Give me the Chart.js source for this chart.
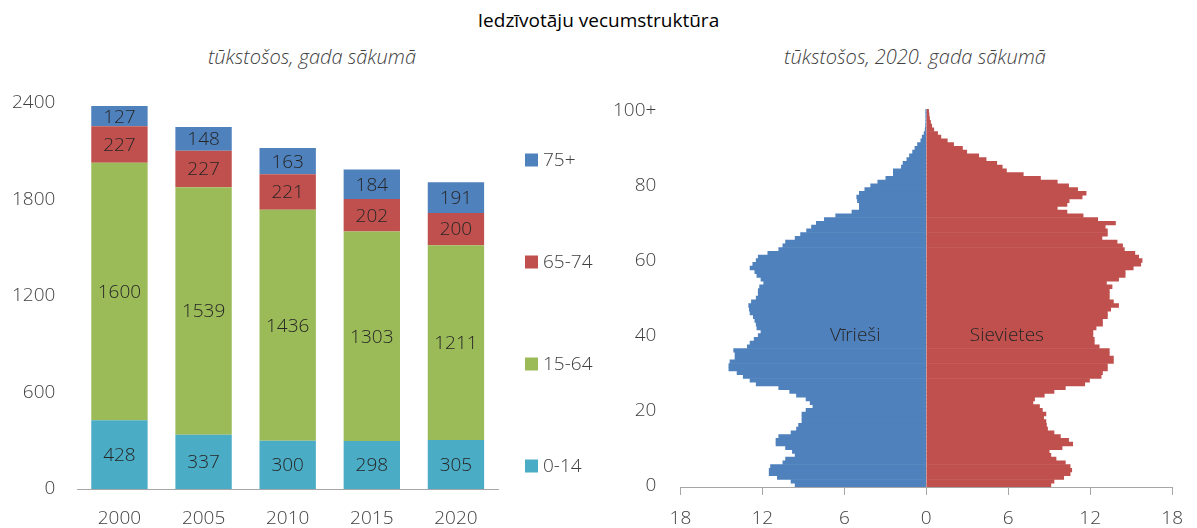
<!DOCTYPE html>
<html>
<head>
<meta charset="utf-8">
<script src="https://cdn.jsdelivr.net/npm/chart.js@4.4.0/dist/chart.umd.min.js"></script>
<style>
body { margin: 0; background: #fff; width: 1197px; height: 528px; position: relative; overflow: hidden; font-family: 'Open Sans', sans-serif; }
.virsraksts { position: absolute; top: 7px; left: 0; width: 1197px; text-align: center; font-size: 19px; color: #000; }
.apaksv { position: absolute; top: 43px; width: 400px; text-align: center; font-size: 20px; font-style: italic; font-weight: 300; color: #404040; }
#kaste-kreisa { position: absolute; left: 0; top: 0; width: 610px; height: 528px; }
#kaste-laba { position: absolute; left: 585px; top: 0; width: 612px; height: 528px; }
</style>
</head>
<body>
<div class="virsraksts">Iedzīvotāju vecumstruktūra</div>
<div class="apaksv" style="left:112px">tūkstošos, gada sākumā</div>
<div class="apaksv" style="left:715px">tūkstošos, 2020. gada sākumā</div>
<div id="kaste-kreisa"><canvas id="g-struktura"></canvas></div>
<div id="kaste-laba"><canvas id="g-piramida"></canvas></div>

<script>
// kreisais grafiks, tūkst.
var gadi = ['2000', '2005', '2010', '2015', '2020'];
var berni = [428, 337, 300, 298, 305];          // 0-14
var darbaVecums = [1600, 1539, 1436, 1303, 1211]; // 15-64
var vecaki = [227, 227, 221, 202, 200];         // 65-74
var vecie = [127, 148, 163, 184, 191];          // 75+
var grupas = ['0-14', '15-64', '65-74', '75+'];

// piramīda, 2020. gads, tūkst. pēc vecuma 0..100+
var vecumi = [];
for (var v = 0; v <= 100; v++) vecumi.push(v === 100 ? '100+' : String(v));

var virieti = [
    9.6, 9.9, 10.9, 11.5, 11.5, 11.4, 10.5, 10.3, 9.6, 9.8,
    10.3, 11.0, 11.0, 10.8, 9.9, 9.5, 9.35, 9.1, 9.1, 9.1,
    8.8, 8.3, 8.5, 8.8, 9.5, 10.0, 10.8, 12.45, 12.9, 13.4,
    13.85, 14.45, 14.45, 14.37, 14.0, 14.0, 14.1, 13.1, 12.9, 12.6,
    12.3, 12.1, 12.4, 12.45, 12.55, 12.66, 12.9, 12.95, 13.0, 12.8,
    12.45, 12.3, 12.3, 12.2, 11.9, 12.1, 12.4, 12.55, 12.9, 12.7,
    12.45, 12.3, 11.6, 10.8, 10.5, 10.3, 9.6, 9.2, 8.76, 8.4,
    8.05, 7.46, 6.63, 5.44, 4.9, 4.9, 5.04, 5.09, 4.9, 4.5,
    4.07, 3.55, 2.96, 2.41, 2.41, 1.82, 1.7, 1.42, 1.23, 1.0,
    0.83, 0.64, 0.4, 0.3, 0.16, 0.08, 0.05, 0.03, 0.02, 0.01,
    0.01
];
var sievietes = [
    9.12, 9.35, 10.06, 10.53, 10.65, 10.53, 10.18, 9.5, 9.12, 9.0,
    9.94, 10.72, 10.42, 9.82, 9.35, 8.88, 8.8, 8.76, 8.59, 8.76,
    8.5, 8.29, 7.81, 7.93, 8.64, 9.35, 10.18, 11.6, 11.95, 12.8,
    12.9, 13.26, 13.26, 13.7, 13.7, 13.4, 13.4, 12.66, 12.3, 12.3,
    12.2, 12.2, 12.43, 12.9, 12.9, 13.26, 13.26, 13.5, 14.08, 13.7,
    13.4, 13.4, 13.4, 13.6, 13.19, 14.08, 14.56, 14.56, 15.15, 15.7,
    15.8, 15.55, 15.27, 14.5, 14.37, 13.97, 12.86, 13.26, 13.26, 13.1,
    13.85, 12.55, 11.48, 10.3, 9.59, 10.3, 10.46, 11.41, 11.7, 11.08,
    10.42, 9.59, 8.36, 7.1, 5.87, 5.56, 5.16, 4.38, 3.84, 2.96,
    2.65, 2.0, 1.54, 1.07, 0.83, 0.55, 0.4, 0.31, 0.24, 0.2,
    0.17
];

var fonts = '"Open Sans", sans-serif';
var teksts = '#404040';
var asis = '#a6a6a6';
var tickFont = { family: fonts, size: 19, weight: 300 };
var tickFontX = { family: fonts, size: 19, weight: 300, lineHeight: 1 };

// Chart.js rezervē padding divreiz, atņemam vienu
function platumsBezLieka(s) { s.width -= s.options.ticks.padding; }
function augstumsBezLieka(s) { s.height -= s.options.ticks.padding; }

// skaitļi segmentu vidū
var skaitluUzraksti = {
    id: 'skaitluUzraksti',
    afterDatasetsDraw: function (chart) {
        var ctx = chart.ctx;
        ctx.save();
        ctx.font = '300 19px ' + fonts;
        ctx.fillStyle = '#262626';
        ctx.textAlign = 'center';
        ctx.textBaseline = 'middle';
        chart.data.datasets.forEach(function (ds, i) {
            chart.getDatasetMeta(i).data.forEach(function (bar, j) {
                ctx.fillText(ds.data[j], bar.x, (bar.y + bar.base) / 2 + 1);
            });
        });
        ctx.restore();
    }
};

// leģenda labajā pusē, izklīdināta pa augstumu
var sanuLegenda = {
    id: 'sanuLegenda',
    afterDraw: function (chart) {
        var ctx = chart.ctx, a = chart.chartArea;
        var ds = chart.data.datasets;
        ctx.save();
        ctx.font = '300 19px ' + fonts;
        ctx.textAlign = 'left';
        ctx.textBaseline = 'middle';
        for (var k = 0; k < ds.length; k++) {
            var y = a.top + 57 + (ds.length - 1 - k) * 102;
            ctx.fillStyle = ds[k].backgroundColor;
            ctx.fillRect(a.right + 27, y - 6.5, 13, 13);
            ctx.fillStyle = teksts;
            ctx.fillText(ds[k].label, a.right + 45, y + 1);
        }
        ctx.restore();
    }
};

var dzimumuUzraksti = {
    id: 'dzimumuUzraksti',
    afterDatasetsDraw: function (chart) {
        var ctx = chart.ctx, sx = chart.scales.x, sy = chart.scales.y;
        ctx.save();
        ctx.font = '300 19px ' + fonts;
        ctx.fillStyle = '#262626';
        ctx.textAlign = 'center';
        ctx.textBaseline = 'middle';
        ctx.fillText('Vīrieši', sx.getPixelForValue(-5.2), sy.getPixelForValue(40));
        ctx.fillText('Sievietes', sx.getPixelForValue(5.9), sy.getPixelForValue(40));
        ctx.restore();
    }
};

var gStruktura = new Chart(document.getElementById('g-struktura'), {
    type: 'bar',
    data: {
        labels: gadi,
        datasets: [
            { label: grupas[0], data: berni, backgroundColor: '#4BACC6' },
            { label: grupas[1], data: darbaVecums, backgroundColor: '#9BBB59' },
            { label: grupas[2], data: vecaki, backgroundColor: '#C0504D' },
            { label: grupas[3], data: vecie, backgroundColor: '#4F81BD' }
        ]
    },
    options: {
        responsive: true,
        maintainAspectRatio: false,
        animation: false,
        layout: { padding: { left: 12, right: 112, top: 103, bottom: 0 } },
        datasets: { bar: { categoryPercentage: 0.67, barPercentage: 1, borderWidth: 0 } },
        scales: {
            x: {
                stacked: true,
                grid: { display: false, drawTicks: false },
                border: { color: asis },
                ticks: { color: teksts, font: tickFontX, padding: 20 },
                afterFit: augstumsBezLieka
            },
            y: {
                stacked: true,
                min: 0,
                max: 2400,
                grid: { display: false, drawTicks: false },
                border: { display: false },
                ticks: {
                    stepSize: 600,
                    color: teksts,
                    font: tickFont,
                    padding: 22,
                    callback: function (value) { return String(value); }
                },
                afterFit: platumsBezLieka
            }
        },
        plugins: {
            legend: { display: false },
            title: { display: false },
            tooltip: { enabled: false }
        }
    },
    plugins: [skaitluUzraksti, sanuLegenda]
});

var gPiramida = new Chart(document.getElementById('g-piramida'), {
    type: 'bar',
    data: {
        labels: vecumi,
        datasets: [
            { label: 'Vīrieši', data: virieti.map(function (x) { return -x; }), backgroundColor: '#4F81BD' },
            { label: 'Sievietes', data: sievietes, backgroundColor: '#C0504D' }
        ]
    },
    options: {
        indexAxis: 'y',
        responsive: true,
        maintainAspectRatio: false,
        animation: false,
        layout: { padding: { left: 4, right: 0, top: 109, bottom: 0 } },
        datasets: { bar: { categoryPercentage: 1, barPercentage: 1, borderWidth: 0 } },
        scales: {
            x: {
                stacked: true,
                min: -18,
                max: 18,
                grid: { drawOnChartArea: false, drawTicks: true, tickLength: 8, color: asis },
                border: { color: asis },
                ticks: {
                    stepSize: 6,
                    color: teksts,
                    font: tickFontX,
                    padding: 14,
                    callback: function (value) { return Math.abs(value); }
                },
                afterFit: augstumsBezLieka
            },
            y: {
                stacked: true,
                reverse: true,
                grid: { display: false, drawTicks: false },
                border: { display: false },
                ticks: {
                    autoSkip: false,
                    color: teksts,
                    font: tickFont,
                    padding: 24,
                    callback: function (value, index) {
                        return index % 20 === 0 ? this.getLabelForValue(value) : '';
                    }
                }
            }
        },
        plugins: {
            legend: { display: false },
            title: { display: false },
            tooltip: { enabled: false }
        }
    },
    plugins: [dzimumuUzraksti]
});
</script>
</body>
</html>
